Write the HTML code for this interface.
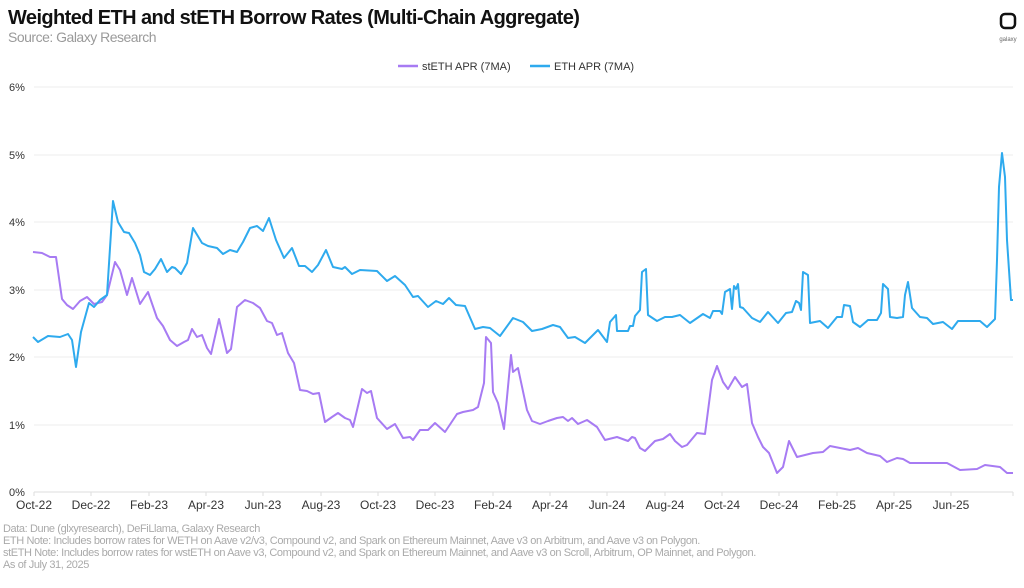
<!DOCTYPE html>
<html><head><meta charset="utf-8"><style>
body{margin:0;background:#fff;width:1024px;height:583px;overflow:hidden;font-family:"Liberation Sans",sans-serif}
</style></head><body>
<svg width="1024" height="583" viewBox="0 0 1024 583" xmlns="http://www.w3.org/2000/svg" font-family="Liberation Sans, sans-serif">
<text x="8" y="24" font-size="20" font-weight="bold" fill="#111" letter-spacing="-0.6">Weighted ETH and stETH Borrow Rates (Multi-Chain Aggregate)</text>
<text x="8" y="42" font-size="14" fill="#9a9a9a" letter-spacing="-0.5">Source: Galaxy Research</text>
<rect x="1001" y="14" width="14" height="14" rx="4" fill="none" stroke="#111" stroke-width="2.5"/>
<text x="1008" y="41" font-size="6" fill="#666" text-anchor="middle">galaxy</text>
<line x1="398" y1="66" x2="418" y2="66" stroke="#a77bf3" stroke-width="2.5"/>
<text x="422" y="70" font-size="11" fill="#333">stETH APR (7MA)</text>
<line x1="530" y1="66" x2="550" y2="66" stroke="#2eaaee" stroke-width="2.5"/>
<text x="554" y="70" font-size="11" fill="#333">ETH APR (7MA)</text>
<g stroke="#eee" stroke-width="1">
<line x1="34" y1="87" x2="1013" y2="87"/><line x1="34" y1="155" x2="1013" y2="155"/><line x1="34" y1="222" x2="1013" y2="222"/><line x1="34" y1="290" x2="1013" y2="290"/><line x1="34" y1="357" x2="1013" y2="357"/><line x1="34" y1="425" x2="1013" y2="425"/>
</g>
<line x1="34" y1="492" x2="1013" y2="492" stroke="#ddd"/>
<g stroke="#ddd"><line x1="34" y1="492" x2="34" y2="496"/><line x1="91" y1="492" x2="91" y2="496"/><line x1="149" y1="492" x2="149" y2="496"/><line x1="206" y1="492" x2="206" y2="496"/><line x1="263" y1="492" x2="263" y2="496"/><line x1="321" y1="492" x2="321" y2="496"/><line x1="378" y1="492" x2="378" y2="496"/><line x1="435" y1="492" x2="435" y2="496"/><line x1="493" y1="492" x2="493" y2="496"/><line x1="550" y1="492" x2="550" y2="496"/><line x1="607" y1="492" x2="607" y2="496"/><line x1="665" y1="492" x2="665" y2="496"/><line x1="722" y1="492" x2="722" y2="496"/><line x1="779" y1="492" x2="779" y2="496"/><line x1="837" y1="492" x2="837" y2="496"/><line x1="894" y1="492" x2="894" y2="496"/><line x1="951" y1="492" x2="951" y2="496"/><line x1="1013" y1="492" x2="1013" y2="496"/></g>
<g font-size="11" fill="#333"><text x="9" y="91">6%</text><text x="9" y="159">5%</text><text x="9" y="226">4%</text><text x="9" y="294">3%</text><text x="9" y="361">2%</text><text x="9" y="429">1%</text><text x="9" y="496">0%</text></g>
<g font-size="12" fill="#333" text-anchor="middle"><text x="34" y="509">Oct-22</text><text x="91" y="509">Dec-22</text><text x="149" y="509">Feb-23</text><text x="206" y="509">Apr-23</text><text x="263" y="509">Jun-23</text><text x="321" y="509">Aug-23</text><text x="378" y="509">Oct-23</text><text x="435" y="509">Dec-23</text><text x="493" y="509">Feb-24</text><text x="550" y="509">Apr-24</text><text x="607" y="509">Jun-24</text><text x="665" y="509">Aug-24</text><text x="722" y="509">Oct-24</text><text x="779" y="509">Dec-24</text><text x="837" y="509">Feb-25</text><text x="894" y="509">Apr-25</text><text x="951" y="509">Jun-25</text></g>
<g font-size="11" fill="#aaa" letter-spacing="-0.4"><text x="3" y="532">Data: Dune (glxyresearch), DeFiLlama, Galaxy Research</text><text x="3" y="544">ETH Note: Includes borrow rates for WETH on Aave v2/v3, Compound v2, and Spark on Ethereum Mainnet, Aave v3 on Arbitrum, and Aave v3 on Polygon.</text><text x="3" y="556">stETH Note: Includes  borrow rates for wstETH on Aave v3, Compound v2, and  Spark on Ethereum Mainnet, and Aave v3 on Scroll, Arbitrum, OP Mainnet, and Polygon.</text><text x="3" y="568">As of July 31, 2025</text></g>
<polyline fill="none" stroke="#a77bf3" stroke-width="2" stroke-linejoin="round" points="33,252 42,253 50,257 56,257 62,299 67,305 73,309 80,301 87,297 94,304 102,302 107,295 115,262 120,270 127,295 132,278 140,304 148,292 157,318 163,326 170,340 177,346 184,342 188,340 192,329 197,337 202,335 207,348 211,354 219,319 227,353 231,349 237,307 245,300 253,303 260,308 267,321 272,323 277,335 282,333 288,353 294,363 300,390 307,391 313,394 319,393 325,422 332,417 338,413 345,418 350,420 353,427 362,389 367,393 371,391 377,418 387,429 395,424 403,438 410,437 413,440 420,430 428,430 435,423 445,432 457,414 463,412 473,410 478,407 484,383 486,337 491,343 493,392 498,403 504,429 511,355 513,372 518,368 527,410 532,421 540,424 548,421 557,418 563,417 568,421 572,418 578,424 587,420 597,427 605,440 617,437 628,441 632,437 635,438 640,448 645,451 655,441 663,439 670,434 675,441 682,447 687,445 697,433 705,434 712,380 717,366 723,382 728,389 735,377 742,387 747,384 752,423 758,437 763,447 769,453 777,473 783,467 789,441 797,457 813,453 823,452 830,446 850,450 858,448 867,453 880,456 887,462 897,458 903,459 910,463 933,463 947,463 960,470 977,469 985,465 1000,467 1007,473 1013,473"/>
<polyline fill="none" stroke="#2eaaee" stroke-width="2" stroke-linejoin="round" points="33,337 38,342 48,336 60,337 68,334 72,340 76,367 81,332 89,303 94,307 100,300 107,295 113,201 118,222 124,232 129,233 135,243 140,255 144,272 150,275 155,269 161,259 167,272 172,267 175,268 181,274 187,263 193,228 202,243 208,246 217,248 223,254 230,250 237,252 243,242 250,228 257,226 263,231 269,218 276,240 284,258 292,248 299,266 305,266 312,272 318,265 326,250 333,267 342,269 345,267 352,274 360,270 377,271 387,281 395,276 405,285 413,297 418,296 428,307 436,301 443,304 449,298 456,305 465,306 475,329 483,327 490,328 500,336 513,318 523,322 532,331 542,329 553,325 560,327 568,338 575,337 585,343 598,330 607,342 610,322 616,315 617,331 628,331 630,326 633,326 635,316 640,310 642,272 646,269 648,315 657,321 665,317 672,317 680,315 690,323 703,314 710,318 713,311 720,311 722,314 725,292 730,289 732,309 734,286 736,289 738,284 740,307 743,308 752,318 760,322 768,312 778,323 786,313 792,312 796,301 799,303 801,310 803,272 808,275 810,323 820,321 828,328 837,317 842,317 844,305 850,306 853,322 860,327 868,320 877,320 881,313 883,284 888,289 890,317 897,318 903,317 905,295 908,282 912,308 920,317 927,318 933,324 943,322 952,329 958,321 980,321 987,327 995,319 997,260 999,187 1002,153 1005,177 1007,240 1011,300 1013,300"/>
</svg>
</body></html>
